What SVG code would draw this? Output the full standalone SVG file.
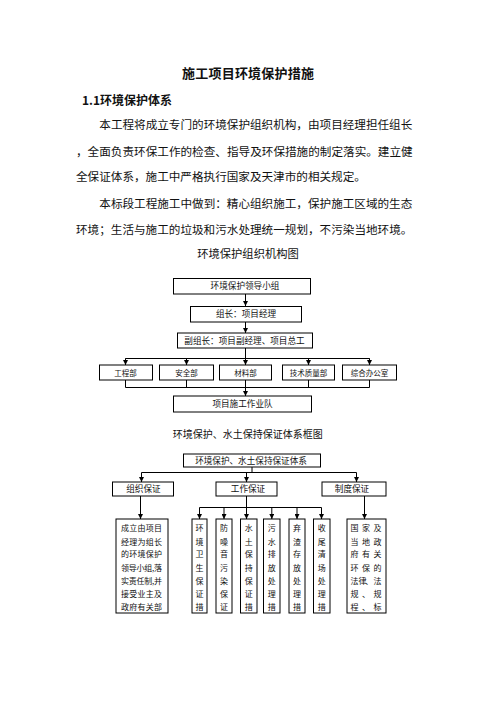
<svg xmlns="http://www.w3.org/2000/svg" width="496" height="702" viewBox="0 0 496 702">
<style>
text{font-family:"Noto Sans CJK SC","Noto Sans CJK JP",sans-serif;fill:#111;}
.p{font-size:11.6px;}
.box{fill:#fff;stroke:#000;stroke-width:1;}
.b{font-size:8.6px;text-anchor:middle;}
.s{font-size:7.5px;text-anchor:middle;}
.c{font-size:8px;text-anchor:middle;}
.ln{fill:none;stroke:#000;stroke-width:1;}
</style>
<defs>
<marker id="ah" viewBox="0 0 6 6" refX="6" refY="3" markerWidth="5" markerHeight="5" markerUnits="userSpaceOnUse" orient="auto"><path d="M0,0 L6,3 L0,6 z" fill="#000"/></marker>
</defs>
<rect width="496" height="702" fill="#fff"/>
<g id="text-top">
<text x="248" y="78" font-size="13" font-weight="bold" text-anchor="middle" textLength="132">施工项目环境保护措施</text>
<text x="82" y="104.5" font-size="12" font-weight="bold">1.1环境保护体系</text>
<text class="p" x="99.3" y="129.4" textLength="313" lengthAdjust="spacing">本工程将成立专门的环境保护组织机构，由项目经理担任组长</text>
<text class="p" x="76" y="156" textLength="336.7" lengthAdjust="spacing">，全面负责环保工作的检查、指导及环保措施的制定落实。建立健</text>
<text class="p" x="76" y="181">全保证体系，施工中严格执行国家及天津市的相关规定。</text>
<text class="p" x="99.3" y="207.7" textLength="313" lengthAdjust="spacing">本标段工程施工中做到：精心组织施工，保护施工区域的生态</text>
<text class="p" x="76" y="234.4" textLength="336.4" lengthAdjust="spacing">环境；生活与施工的垃圾和污水处理统一规划，不污染当地环境。</text>
<text x="248" y="257.6" font-size="11.3" text-anchor="middle">环境保护组织机构图</text>
<text x="247.7" y="437.8" font-size="10" text-anchor="middle">环境保护、水土保持保证体系框图</text>
</g>
<g id="connectors">
<line class="ln" x1="245.5" y1="294" x2="245.5" y2="306" marker-end="url(#ah)"/>
<line class="ln" x1="245.5" y1="322" x2="245.5" y2="333" marker-end="url(#ah)"/>
<line class="ln" x1="245.5" y1="348" x2="245.5" y2="365" marker-end="url(#ah)"/>
<polyline class="ln" points="125.5,365 125.5,358.5 369.5,358.5 369.5,365" marker-start="none"/>
<line class="ln" x1="125.5" y1="358.5" x2="125.5" y2="365" marker-end="url(#ah)"/>
<line class="ln" x1="186.5" y1="358.5" x2="186.5" y2="365" marker-end="url(#ah)"/>
<line class="ln" x1="308.5" y1="358.5" x2="308.5" y2="365" marker-end="url(#ah)"/>
<line class="ln" x1="369.5" y1="358.5" x2="369.5" y2="365" marker-end="url(#ah)"/>
<polyline class="ln" points="125.5,380 125.5,387.5 369.5,387.5 369.5,380"/>
<line class="ln" x1="186.5" y1="380" x2="186.5" y2="387.5"/>
<line class="ln" x1="308.5" y1="380" x2="308.5" y2="387.5"/>
<line class="ln" x1="245.5" y1="380" x2="245.5" y2="396" marker-end="url(#ah)"/>
<line class="ln" x1="252" y1="467" x2="252" y2="472.5"/>
<line class="ln" x1="141.5" y1="472.5" x2="356.5" y2="472.5"/>
<line class="ln" x1="141.5" y1="472.5" x2="141.5" y2="482" marker-end="url(#ah)"/>
<line class="ln" x1="246.5" y1="472.5" x2="246.5" y2="482" marker-end="url(#ah)"/>
<line class="ln" x1="356.5" y1="472.5" x2="356.5" y2="482" marker-end="url(#ah)"/>
<line class="ln" x1="140.5" y1="496" x2="140.5" y2="519" marker-end="url(#ah)"/>
<line class="ln" x1="246.5" y1="496" x2="246.5" y2="519" marker-end="url(#ah)"/>
<line class="ln" x1="199.5" y1="507.5" x2="321.5" y2="507.5"/>
<line class="ln" x1="199.5" y1="507.5" x2="199.5" y2="519" marker-end="url(#ah)"/>
<line class="ln" x1="224" y1="507.5" x2="224" y2="519" marker-end="url(#ah)"/>
<line class="ln" x1="271.8" y1="507.5" x2="271.8" y2="519" marker-end="url(#ah)"/>
<line class="ln" x1="297" y1="507.5" x2="297" y2="519" marker-end="url(#ah)"/>
<line class="ln" x1="321.5" y1="507.5" x2="321.5" y2="519" marker-end="url(#ah)"/>
<line class="ln" x1="364.5" y1="496" x2="364.5" y2="519" marker-end="url(#ah)"/>
</g>
<g id="n-leader"><rect class="box" x="173.5" y="278.5" width="137" height="15.5"/><text class="b" x="245" y="289.3">环境保护领导小组</text></g>
<g id="n-head"><rect class="box" x="190.5" y="306.5" width="111" height="15.5"/><text class="b" x="246" y="317.3">组长：项目经理</text></g>
<g id="n-deputy"><rect class="box" x="177.5" y="333" width="135" height="15"/><text class="b" x="244.5" y="343.8" font-size="9">副组长：项目副经理、项目总工</text></g>
<g id="n-gcb"><rect class="box" x="99.5" y="365" width="53" height="15"/><text class="s" x="125.5" y="375.8">工程部</text></g>
<g id="n-aqb"><rect class="box" x="159.5" y="365" width="54" height="15"/><text class="s" x="186.5" y="375.8">安全部</text></g>
<g id="n-clb"><rect class="box" x="219.5" y="365" width="52" height="15"/><text class="s" x="245.5" y="375.8">材料部</text></g>
<g id="n-jszlb"><rect class="box" x="282.5" y="365" width="52" height="15"/><text class="s" x="308.5" y="375.8">技术质量部</text></g>
<g id="n-zhbgs"><rect class="box" x="342.5" y="365" width="54" height="15"/><text class="s" x="369.5" y="375.8">综合办公室</text></g>
<g id="n-team"><rect class="box" x="173.5" y="396" width="138" height="16"/><text class="b" x="242.5" y="407.2">项目施工作业队</text></g>
<g id="n-system"><rect class="box" x="183.5" y="454" width="137" height="13"/><text class="b" x="251" y="464">环境保护、水土保持保证体系</text></g>
<g id="n-org"><rect class="box" x="112.5" y="482" width="61" height="14"/><text class="b" x="143.4" y="492.2">组织保证</text></g>
<g id="n-work"><rect class="box" x="216" y="482" width="61" height="14"/><text class="b" x="248" y="492.2">工作保证</text></g>
<g id="n-rule"><rect class="box" x="322" y="482" width="64" height="14"/><text class="b" x="352" y="492.2">制度保证</text></g>
<g id="n-org-d"><rect class="box" x="116" y="519" width="52" height="94"/>
<text class="c" x="121" y="531.3" text-anchor="start" style="text-anchor:start" textLength="41" lengthAdjust="spacing">成立由项目</text>
<text class="c" x="121" y="544.7" style="text-anchor:start" textLength="41" lengthAdjust="spacing">经理为组长</text>
<text class="c" x="121" y="557.3" style="text-anchor:start" textLength="41" lengthAdjust="spacing">的环境保护</text>
<text class="c" x="121" y="570.7" style="text-anchor:start" textLength="41" lengthAdjust="spacing">领导小组,落</text>
<text class="c" x="121" y="583.7" style="text-anchor:start" textLength="41" lengthAdjust="spacing">实责任制,并</text>
<text class="c" x="121" y="596.7" style="text-anchor:start" textLength="41" lengthAdjust="spacing">接受业主及</text>
<text class="c" x="121" y="609.7" style="text-anchor:start" textLength="41" lengthAdjust="spacing">政府有关部</text>
</g>
<g id="n-w1"><rect class="box" x="192" y="519" width="15" height="94"/>
<text class="c"><tspan x="199.5" y="531.3">环</tspan><tspan x="199.5" y="544.7">境</tspan><tspan x="199.5" y="557.3">卫</tspan><tspan x="199.5" y="570.7">生</tspan><tspan x="199.5" y="583.7">保</tspan><tspan x="199.5" y="596.7">证</tspan><tspan x="199.5" y="609.7">措</tspan></text></g>
<g id="n-w2"><rect class="box" x="216" y="519" width="16" height="94"/>
<text class="c"><tspan x="224" y="531.3">防</tspan><tspan x="224" y="544.7">噪</tspan><tspan x="224" y="557.3">音</tspan><tspan x="224" y="570.7">污</tspan><tspan x="224" y="583.7">染</tspan><tspan x="224" y="596.7">保</tspan><tspan x="224" y="609.7">证</tspan></text></g>
<g id="n-w3"><rect class="box" x="240.5" y="519" width="16.5" height="94"/>
<text class="c"><tspan x="248.8" y="531.3">水</tspan><tspan x="248.8" y="544.7">土</tspan><tspan x="248.8" y="557.3">保</tspan><tspan x="248.8" y="570.7">持</tspan><tspan x="248.8" y="583.7">保</tspan><tspan x="248.8" y="596.7">证</tspan><tspan x="248.8" y="609.7">措</tspan></text></g>
<g id="n-w4"><rect class="box" x="263.5" y="519" width="16.5" height="94"/>
<text class="c"><tspan x="271.8" y="531.3">污</tspan><tspan x="271.8" y="544.7">水</tspan><tspan x="271.8" y="557.3">排</tspan><tspan x="271.8" y="570.7">放</tspan><tspan x="271.8" y="583.7">处</tspan><tspan x="271.8" y="596.7">理</tspan><tspan x="271.8" y="609.7">措</tspan></text></g>
<g id="n-w5"><rect class="box" x="289" y="519" width="16" height="94"/>
<text class="c"><tspan x="297" y="531.3">弃</tspan><tspan x="297" y="544.7">渣</tspan><tspan x="297" y="557.3">存</tspan><tspan x="297" y="570.7">放</tspan><tspan x="297" y="583.7">处</tspan><tspan x="297" y="596.7">理</tspan><tspan x="297" y="609.7">措</tspan></text></g>
<g id="n-w6"><rect class="box" x="313.5" y="519" width="16.5" height="94"/>
<text class="c"><tspan x="321.8" y="531.3">收</tspan><tspan x="321.8" y="544.7">尾</tspan><tspan x="321.8" y="557.3">清</tspan><tspan x="321.8" y="570.7">场</tspan><tspan x="321.8" y="583.7">处</tspan><tspan x="321.8" y="596.7">理</tspan><tspan x="321.8" y="609.7">措</tspan></text></g>
<g id="n-rule-d"><rect class="box" x="347" y="519" width="39" height="94"/>
<text class="c" x="354.5 366 377.5" y="531.3">国家及</text>
<text class="c" x="354.5 366 377.5" y="544.7">当地政</text>
<text class="c" x="354.5 366 377.5" y="557.3">府有关</text>
<text class="c" x="354.5 366 377.5" y="570.7">环保的</text>
<text class="c" x="354.5 362.5 369 377.5" y="583.7">法律、法</text>
<text class="c" x="354.5 366 377.5" y="596.7">规、规</text>
<text class="c" x="354.5 366 377.5" y="609.7">程、标</text>
</g>
</svg>
